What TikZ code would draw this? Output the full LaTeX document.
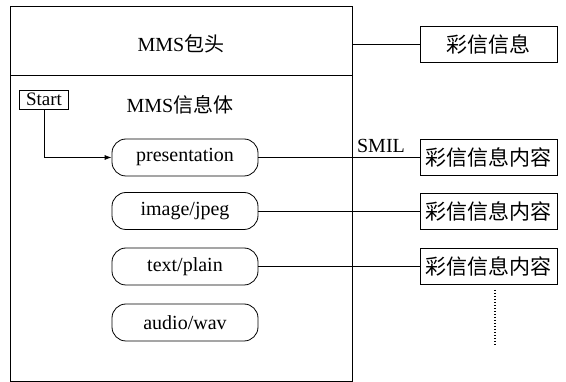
\documentclass[tikz,border=0pt]{standalone}
\usepackage{fontspec}
\setmainfont{Liberation Serif}
\newfontfamily\cjk{Noto Sans CJK SC}
\usetikzlibrary{arrows.meta}
\begin{document}
\begin{tikzpicture}[x=1pt, y=-1pt, line width=0.8pt,
  font=\fontsize{20}{24}\selectfont,
  frame/.style={draw, minimum width=342pt, inner sep=0pt},
  pill/.style={draw, rounded corners=14pt, minimum width=146pt, minimum height=37pt, inner sep=0pt},
  cbox/.style={draw, minimum width=137pt, minimum height=36pt, inner sep=0pt,
               font=\fontsize{21}{24}\selectfont\cjk},
  startbox/.style={draw, minimum width=49pt, minimum height=19pt, inner sep=0pt,
                   font=\fontsize{19}{20}\selectfont},
  link/.style={draw}]
\useasboundingbox (0,0) rectangle (566,382);

% message header and body
\node[frame, minimum height=69pt] (head) at (181,40.5) {};
\node[frame, minimum height=306pt] (body) at (181,228) {};
\node (headtxt) at (181,44) {MMS{\cjk 包头}};
\node (bodytxt) at (180,105) {MMS{\cjk 信息体}};

% start marker
\node[startbox] (start) at (44,99.5) {Start};

% media parts
\node[pill] (pres)  at (185,157.5) {presentation};
\node[pill] (jpeg)  at (185,211)   {image/jpeg};
\node[pill] (plain) at (185,266.5) {text/plain};
\node[pill] (wav)   at (185,322.5) {audio/wav};

% right-hand boxes
\node[cbox] (info) at (488.5,44)    {彩信信息};
\node[cbox] (c1)   at (488.5,157.5) {彩信信息内容};
\node[cbox] (c2)   at (488.5,211)   {彩信信息内容};
\node[cbox] (c3)   at (488.5,266.5) {彩信信息内容};

\node (smil) at (381,145.5) {SMIL};

% connectors
\draw[link] (head.east |- info.west) -- (info.west);
\draw[link, -{Latex[length=7pt,width=5pt]}] (start.south) |- (pres.west);
\draw[link] (pres.east) -- (c1.west);
\draw[link] (jpeg.east) -- (c2.west);
\draw[link] (plain.east) -- (c3.west);

% continuation dots
\coordinate (dtop) at (495,290);
\coordinate (dbot) at (495,345);
\draw[line width=1.2pt, dash pattern=on 1pt off 2pt] (dtop) -- (dbot);
\end{tikzpicture}
\end{document}
